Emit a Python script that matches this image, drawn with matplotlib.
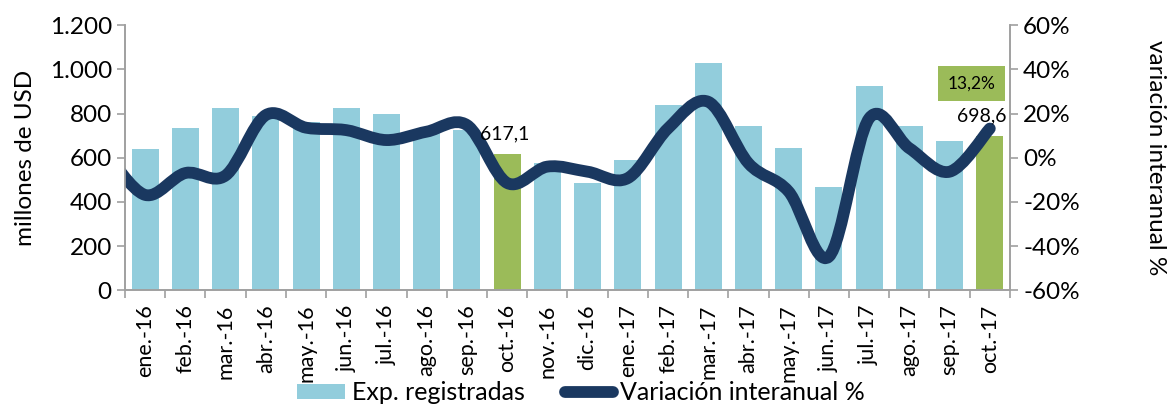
import numpy as np
import matplotlib
matplotlib.use("Agg")
import matplotlib.pyplot as plt
from matplotlib.path import Path
from matplotlib.patches import PathPatch, Patch
from matplotlib.lines import Line2D

plt.rcParams['font.family'] = ['Lato', 'DejaVu Sans']

meses = ["ene.-16", "feb.-16", "mar.-16", "abr.-16", "may.-16", "jun.-16",
         "jul.-16", "ago.-16", "sep.-16", "oct.-16", "nov.-16", "dic.-16",
         "ene.-17", "feb.-17", "mar.-17", "abr.-17", "may.-17", "jun.-17",
         "jul.-17", "ago.-17", "sep.-17", "oct.-17"]
exportaciones = [640, 733, 826, 790, 760, 826, 796, 730, 725, 617.1, 578, 485,
                 590, 838, 1030, 744, 643, 466, 924, 744, 677, 698.6]
variacion = [-16.8, -6.9, -8.0, 19.3, 13.6, 12.5, 8.0, 11.8, 14.8, -11.4, -4.0,
             -6.3, -9.2, 13.3, 25.3, -2.5, -15.3, -44.7, 17.8, 4.3, -6.3, 13.2]
# previous month (dic.-15), only its curve segment shows at the left edge
variacion_previa = 3.0
destacados = [9, 21]

azul = '#92cddc'
verde = '#9bbb59'
marino = '#1a3860'
gris = '#a0a0a0'

fig = plt.figure(figsize=(11.72, 4.04), dpi=100)
ax = fig.add_axes([0.1067, 0.281, 0.755, 0.657])
ax2 = ax.twinx()

x = np.arange(len(meses))
colores = [verde if i in destacados else azul for i in x]
ax.bar(x, exportaciones, width=0.67, color=colores)

# smoothed line (Excel style bezier through the points)
xs = np.concatenate([[-1], x]).astype(float)
ys = np.concatenate([[variacion_previa], variacion])
pts = np.column_stack([xs, ys])
verts = [pts[0]]
codes = [Path.MOVETO]
n = len(pts)
for i in range(n - 1):
    p0 = pts[max(i - 1, 0)]
    p1 = pts[i]
    p2 = pts[i + 1]
    p3 = pts[min(i + 2, n - 1)]
    verts += [p1 + (p2 - p0) / 6, p2 - (p3 - p1) / 6, p2]
    codes += [Path.CURVE4] * 3
curva = PathPatch(Path(verts, codes), facecolor='none', edgecolor=marino,
                  lw=8.5, capstyle='round', joinstyle='round')
ax2.add_patch(curva)

ax.set_xlim(-0.5, len(meses) - 0.5)
ax.set_ylim(0, 1200)
ax2.set_ylim(-60, 60)

ax.set_yticks(np.arange(0, 1201, 200))
ax.set_yticklabels(['0', '200', '400', '600', '800', '1.000', '1.200'])
ax2.set_yticks(np.arange(-60, 61, 20))
ax2.set_yticklabels([f'{v}%' for v in range(-60, 61, 20)])

ax.set_xticks(x)
ax.set_xticklabels(meses, rotation=90, fontsize=15.5)
ax.set_xticks(np.arange(-0.5, len(meses), 1), minor=True)
ax.tick_params(axis='x', which='major', length=0, pad=10)
ax.tick_params(axis='x', which='minor', length=6, color=gris, width=1.2)

for a in (ax, ax2):
    a.spines['top'].set_visible(False)
    for s in ('left', 'right', 'bottom'):
        a.spines[s].set_color(gris)
        a.spines[s].set_linewidth(1.2)
    a.tick_params(axis='y', labelsize=17.5, length=6, color=gris, width=1.2)

ax.set_ylabel('millones de USD', fontsize=17.5, labelpad=10)
ax2.set_ylabel('variación interanual %', fontsize=17.5, rotation=270,
               labelpad=62)

ax2.annotate('617,1', xy=(9, exportaciones[9]), xycoords=ax.transData,
             xytext=(-2, 12), textcoords='offset pixels', ha='center',
             va='bottom', fontsize=14)
ax2.annotate('698,6', xy=(21, variacion[21]), xytext=(-8, 4),
             textcoords='offset pixels', ha='center', va='bottom', fontsize=14)
ax2.annotate('13,2%', xy=(21, variacion[21]), xytext=(-18, 45),
             textcoords='offset pixels', ha='center', va='center', fontsize=12.5,
             bbox=dict(boxstyle='square,pad=0.55', facecolor=verde,
                       edgecolor='none'))

handles = [Patch(facecolor=azul), Line2D([0], [0], color=marino, lw=8.5,
                                         solid_capstyle='round')]
fig.legend(handles, ['Exp. registradas', 'Variación interanual %'],
           loc='center', bbox_to_anchor=(0.496, 0.028), ncol=2, frameon=False,
           fontsize=18, handlelength=1.9, handleheight=0.55,
           handletextpad=0.3, columnspacing=1.6)

fig.savefig('out.png', dpi=100)
